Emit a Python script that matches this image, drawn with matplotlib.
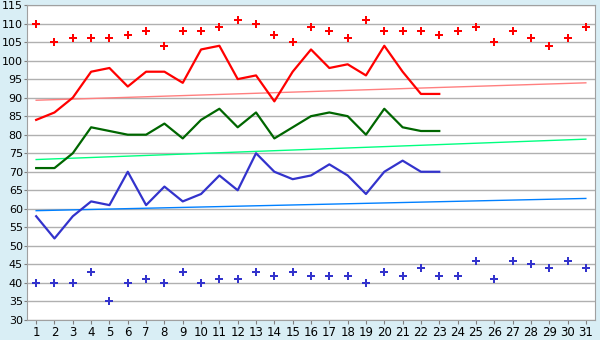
import matplotlib
matplotlib.use('Agg')
import matplotlib.pyplot as plt

# Data
days = list(range(1, 32))
line_days = list(range(1, 24))

red_line = [84, 86, 90, 97, 98, 93, 97, 97, 94, 103, 104, 95, 96, 89, 97, 103,
            98, 99, 96, 104, 97, 91, 91]
green_line = [71, 71, 75, 82, 81, 80, 80, 83, 79, 84, 87, 82, 86, 79, 82, 85,
              86, 85, 80, 87, 82, 81, 81]
blue_line = [58, 52, 58, 62, 61, 70, 61, 66, 62, 64, 69, 65, 75, 70, 68, 69,
             72, 69, 64, 70, 73, 70, 70]

red_points = [110, 105, 106, 106, 106, 107, 108, 104, 108, 108, 109, 111, 110, 107,
              105, 109, 108, 106, 111, 108, 108, 108, 107, 108, 109, 105, 108, 106,
              104, 106, 109]
blue_points = [40, 40, 40, 43, 35, 40, 41, 40, 43, 40, 41, 41, 43, 42, 43, 42,
               42, 42, 40, 43, 42, 44, 42, 42, 46, 41, 46, 45, 44, 46, 44]

# trend lines (start at day 1, end at day 31)
trend_days = [1, 31]
red_trend = [89.3, 94.0]
green_trend = [73.3, 78.8]
blue_trend = [59.5, 62.8]

fig = plt.figure(figsize=(6, 3.4), dpi=100)
fig.patch.set_facecolor('#D9EEF5')
ax = fig.add_axes([27 / 600, 20 / 340, 568 / 600, 315 / 340])
ax.set_facecolor('white')

ax.plot(trend_days, red_trend, color='#FF7F7F', lw=1)
ax.plot(trend_days, green_trend, color='#00FF80', lw=1)
ax.plot(trend_days, blue_trend, color='#0080FF', lw=1)

ax.plot(line_days, red_line, color='#FF0000', lw=1.6)
ax.plot(line_days, green_line, color='#006600', lw=1.6)
ax.plot(line_days, blue_line, color='#3333CC', lw=1.6)

ax.plot(days, red_points, ls='none', marker='P', ms=5.5, color='#FF0000', mew=0)
ax.plot(days, blue_points, ls='none', marker='P', ms=5.5, color='#3333CC', mew=0)

ax.set_xlim(0.5, 31.5)
ax.set_ylim(30, 115)
ax.set_xticks(days)
ax.set_yticks(range(30, 116, 5))
ax.grid(axis='y', color='#B0B0B0', lw=1)
ax.set_axisbelow(True)
for s in ax.spines.values():
    s.set_color('#A0A0A0')
ax.tick_params(axis='x', colors='#808080', labelcolor='black', labelsize=8.5, length=3, pad=1.5)
ax.tick_params(axis='y', colors='#808080', labelcolor='black', labelsize=8, length=2, pad=1)

plt.savefig('out.png', dpi=100, facecolor=fig.get_facecolor())
